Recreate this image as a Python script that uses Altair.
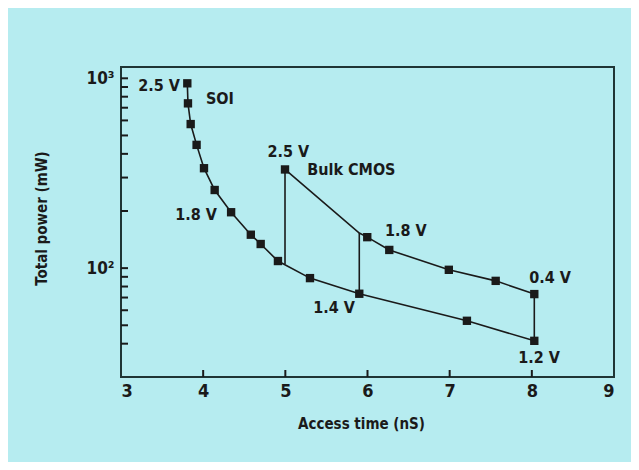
import altair as alt
import pandas as pd

# SOI curve
soi_x = [3.807, 3.815, 3.848, 3.92, 4.01, 4.14, 4.34, 4.58, 4.70, 4.91, 5.30, 5.90, 7.21, 8.03]
soi_y = [941, 738, 574, 446, 336, 258, 197, 150, 134, 109, 88.6, 73.3, 52.8, 41.4]

# Bulk CMOS curve (second vertex is a kink without marker)
bulk_x = [4.996, 5.90, 5.997, 6.265, 6.99, 7.56, 8.03]
bulk_y = [331, 153, 145.6, 124.7, 98, 85.7, 73]
bulk_marker = [True, False, True, True, True, True, True]

# vertical connectors
link_x = [4.996, 5.90, 8.03]
link_lo = [105, 73.3, 41.4]
link_hi = [331, 153, 73]

# annotations
label_text = ["2.5 V", "SOI", "1.8 V", "2.5 V", "Bulk CMOS", "1.8 V", "1.4 V", "0.4 V", "1.2 V"]
label_x = [3.718, 4.034, 4.168, 5.036, 5.267, 6.213, 5.340, 7.969, 7.835]
label_y = [911, 774, 191, 411, 329, 156, 61.6, 88.5, 33.6]
label_align = ["right", "left", "right", "center", "left", "left", "left", "left", "left"]

y_ticks = [40, 50, 60, 70, 80, 90, 100, 200, 300, 400, 500, 600, 700, 800, 900, 1000]
x_ticks = [4, 5, 6, 7, 8]
x_labels = [3, 4, 5, 6, 7, 8, 9]

FONT = "DejaVu Sans Condensed, Liberation Sans, sans-serif"
INK = "#1a1a1a"
BG = "#b6ecf0"

soi = pd.DataFrame({"x": soi_x, "y": soi_y})
bulk = pd.DataFrame({"x": bulk_x, "y": bulk_y, "m": bulk_marker})
links = pd.DataFrame({"x": link_x, "lo": link_lo, "hi": link_hi})
labels = pd.DataFrame({"t": label_text, "x": label_x, "y": label_y, "a": label_align})
yt = pd.DataFrame({"v": y_ticks})
xt = pd.DataFrame({"v": x_ticks})

xs = alt.Scale(domain=[3, 9], nice=False, zero=False)
ys = alt.Scale(type="log", domain=[26.7, 1147], nice=False)

x_axis = alt.Axis(values=x_labels, format="d", title="Access time (nS)", ticks=False, domain=False,
                  grid=False, labelPadding=5, labelFontSize=18,
                  titleX=240, titleY=46, titleBaseline="middle")
y_axis = alt.Axis(values=[100, 1000], title="Total power (mW)", ticks=False, domain=False,
                  grid=False, labelPadding=7, labelFontSize=17,
                  labelExpr="datum.value == 1000 ? '10³' : datum.value == 100 ? '10²' : ''",
                  titleX=-80, titleY=151, titleAngle=-90, titleBaseline="middle", titleAlign="center")

base_x = alt.X("x:Q", scale=xs, axis=x_axis)
base_y = alt.Y("y:Q", scale=ys, axis=y_axis)

soi_line = alt.Chart(soi).mark_line(color=INK, strokeWidth=1.6).encode(x=base_x, y=base_y)
soi_pts = alt.Chart(soi).mark_point(shape="square", filled=True, color=INK, size=70, opacity=1).encode(
    x=alt.X("x:Q", scale=xs), y=alt.Y("y:Q", scale=ys))
bulk_line = alt.Chart(bulk).mark_line(color=INK, strokeWidth=1.6).encode(
    x=alt.X("x:Q", scale=xs), y=alt.Y("y:Q", scale=ys))
bulk_pts = alt.Chart(bulk).transform_filter("datum.m").mark_point(
    shape="square", filled=True, color=INK, size=70, opacity=1).encode(
    x=alt.X("x:Q", scale=xs), y=alt.Y("y:Q", scale=ys))
link_rules = alt.Chart(links).mark_rule(color=INK, strokeWidth=1.6).encode(
    x=alt.X("x:Q", scale=xs), y=alt.Y("lo:Q", scale=ys), y2="hi:Q")

ytick_marks = alt.Chart(yt).mark_tick(color=INK, thickness=2, size=7, orient="horizontal", opacity=1).encode(
    y=alt.Y("v:Q", scale=ys), x=alt.value(3.5))
xtick_marks = alt.Chart(xt).mark_tick(color=INK, thickness=2, size=7, orient="vertical", opacity=1).encode(
    x=alt.X("v:Q", scale=xs), y=alt.value(306.5))

text_layers = []
for a in ["left", "right", "center"]:
    text_layers.append(
        alt.Chart(labels).transform_filter(f"datum.a == '{a}'").mark_text(
            align=a, baseline="middle", font=FONT, fontSize=16, fontWeight="bold", color=INK
        ).encode(x=alt.X("x:Q", scale=xs), y=alt.Y("y:Q", scale=ys), text="t:N")
    )

chart = alt.layer(
    soi_line, bulk_line, link_rules, soi_pts, bulk_pts, ytick_marks, xtick_marks, *text_layers
).properties(
    width=493, height=310,
    autosize=alt.AutoSizeParams(type="none"),
    padding={"left": 113, "top": 59, "right": 17, "bottom": 85},
    background=BG,
).configure_view(
    stroke="#1f3535", strokeWidth=2
).configure_axis(
    labelFont=FONT, labelFontWeight="bold", labelColor=INK,
    titleFont=FONT, titleFontSize=15, titleFontWeight="bold", titleColor=INK,
)

chart.save("out.html", embed_options={"renderer": "svg", "actions": False})
